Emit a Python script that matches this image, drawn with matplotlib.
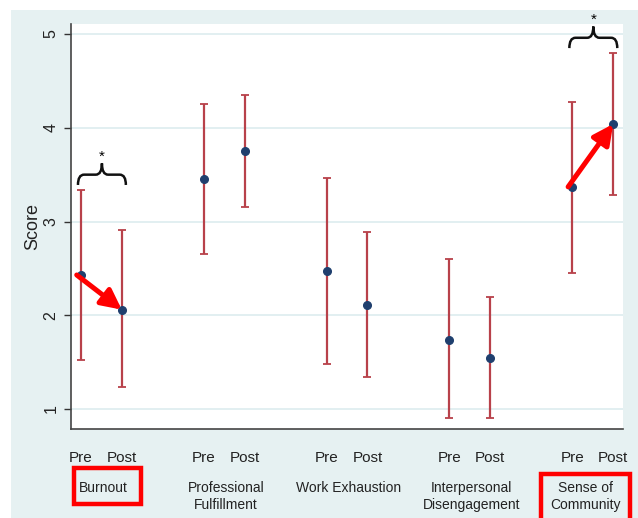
import numpy as np
import matplotlib
matplotlib.use('Agg')
import matplotlib.pyplot as plt
from matplotlib.patches import Rectangle, PathPatch
from matplotlib.path import Path
import matplotlib.transforms as mtransforms

plt.rcParams['font.family'] = ['Liberation Sans', 'DejaVu Sans']

# data
categories = ['Burnout', 'Professional\nFulfillment', 'Work Exhaustion',
              'Interpersonal\nDisengagement', 'Sense of\nCommunity']
pre_mean = [2.43, 3.45, 2.47, 1.74, 3.37]
pre_hi = [3.34, 4.25, 3.46, 2.60, 4.27]
pre_lo = [1.52, 2.65, 1.48, 0.90, 2.45]
post_mean = [2.06, 3.75, 2.11, 1.54, 4.04]
post_hi = [2.91, 4.35, 2.89, 2.19, 4.80]
post_lo = [1.23, 3.15, 1.34, 0.90, 3.28]
time_labels = ['Pre', 'Post']
significant = [0, 4]

W, H = 638, 518
fig = plt.figure(figsize=(W / 100, H / 100), dpi=100)
fig.patch.set_facecolor('white')

teal = '#e6f1f2'
fig.add_artist(Rectangle((11 / W, 0), 1 - 11 / W, 1 - 10 / H, transform=fig.transFigure,
                         facecolor=teal, edgecolor='none', zorder=0))

ax = fig.add_axes([71 / W, (H - 429) / H, (623 - 71) / W, (429 - 24) / H])
ax.set_facecolor('white')

x_pre = np.arange(len(categories)) * 3
x_post = x_pre + 1
means = np.concatenate([pre_mean, post_mean])
his = np.concatenate([pre_hi, post_hi])
los = np.concatenate([pre_lo, post_lo])
xs = np.concatenate([x_pre, x_post])

ax.errorbar(xs, means, yerr=[means - los, his - means], fmt='o', color='#1f3f6e',
            ecolor='#b8414a', elinewidth=1.6, capsize=2.6, capthick=1.3,
            markersize=5.5, zorder=3)

ax.set_ylim(0.787, 5.107)
ax.set_xlim(-0.24, 13.24)
ax.set_yticks([1, 2, 3, 4, 5])
ax.tick_params(axis='y', labelsize=11.5, labelrotation=90, length=5, width=1,
               color='#333333', labelcolor='#222222', pad=4)
for lab in ax.get_yticklabels():
    lab.set_va('center')
ax.grid(axis='y', color='#e2eff1', lw=1.4)
ax.set_axisbelow(True)
for s in ['top', 'right']:
    ax.spines[s].set_visible(False)
for s in ['left', 'bottom']:
    ax.spines[s].set_color('#444444')
    ax.spines[s].set_linewidth(1.2)
ax.set_ylabel('Score', fontsize=13, color='#222222', labelpad=2)

ax.set_xticks(xs)
ax.set_xticklabels([time_labels[0]] * len(x_pre) + [time_labels[1]] * len(x_post),
                   fontsize=11, color='#222222')
ax.tick_params(axis='x', length=0, pad=16)

trans = mtransforms.blended_transform_factory(ax.transData, fig.transFigure)
shift = {4: -0.18}
for i, cat in enumerate(categories):
    ax.text(x_pre[i] + 0.5 + shift.get(i, 0.05), (H - 481) / H, cat, transform=trans,
            ha='center', va='top', fontsize=10, color='#222222', linespacing=1.25)

# arrows and braces for significant changes
for i in significant:
    ax.annotate('', xy=(x_post[i], post_mean[i]), xytext=(x_pre[i] - 0.1, pre_mean[i]),
                arrowprops=dict(arrowstyle='-|>,head_length=1.2,head_width=0.6',
                                color='red', lw=3.6, shrinkA=0, shrinkB=0),
                zorder=5)
    top = max(pre_hi[i], post_hi[i])
    y_tip = top + 0.05
    y_h = y_tip + 0.11
    y_pk = y_h + 0.12
    x0, x1 = x_pre[i] - 0.07, x_post[i] + 0.1
    xm = (x0 + x1) / 2
    d = 0.15
    verts = [(x0, y_tip), (x0, y_h), (x0 + d, y_h), (xm - d, y_h), (xm, y_h), (xm, y_pk),
             (xm, y_h), (xm + d, y_h), (x1 - d, y_h), (x1, y_h), (x1, y_tip)]
    codes = [Path.MOVETO, Path.CURVE3, Path.CURVE3, Path.LINETO, Path.CURVE3, Path.CURVE3,
             Path.CURVE3, Path.CURVE3, Path.LINETO, Path.CURVE3, Path.CURVE3]
    ax.add_patch(PathPatch(Path(verts, codes), facecolor='none', edgecolor='#111111',
                           lw=1.8, clip_on=False, zorder=4))
    ax.text(xm, y_pk + 0.0, '*', ha='center', va='bottom', fontsize=11, clip_on=False)

# red highlight boxes
fig.add_artist(Rectangle((74 / W, (H - 504) / H), 67 / W, 36 / H, transform=fig.transFigure,
                         facecolor='none', edgecolor='red', lw=3.2, zorder=6))
fig.add_artist(Rectangle((541 / W, -5 / H), 89 / W, (H - 474 + 5) / H, transform=fig.transFigure,
                         facecolor='none', edgecolor='red', lw=3.2, zorder=6))

fig.savefig('out.png', dpi=100)
